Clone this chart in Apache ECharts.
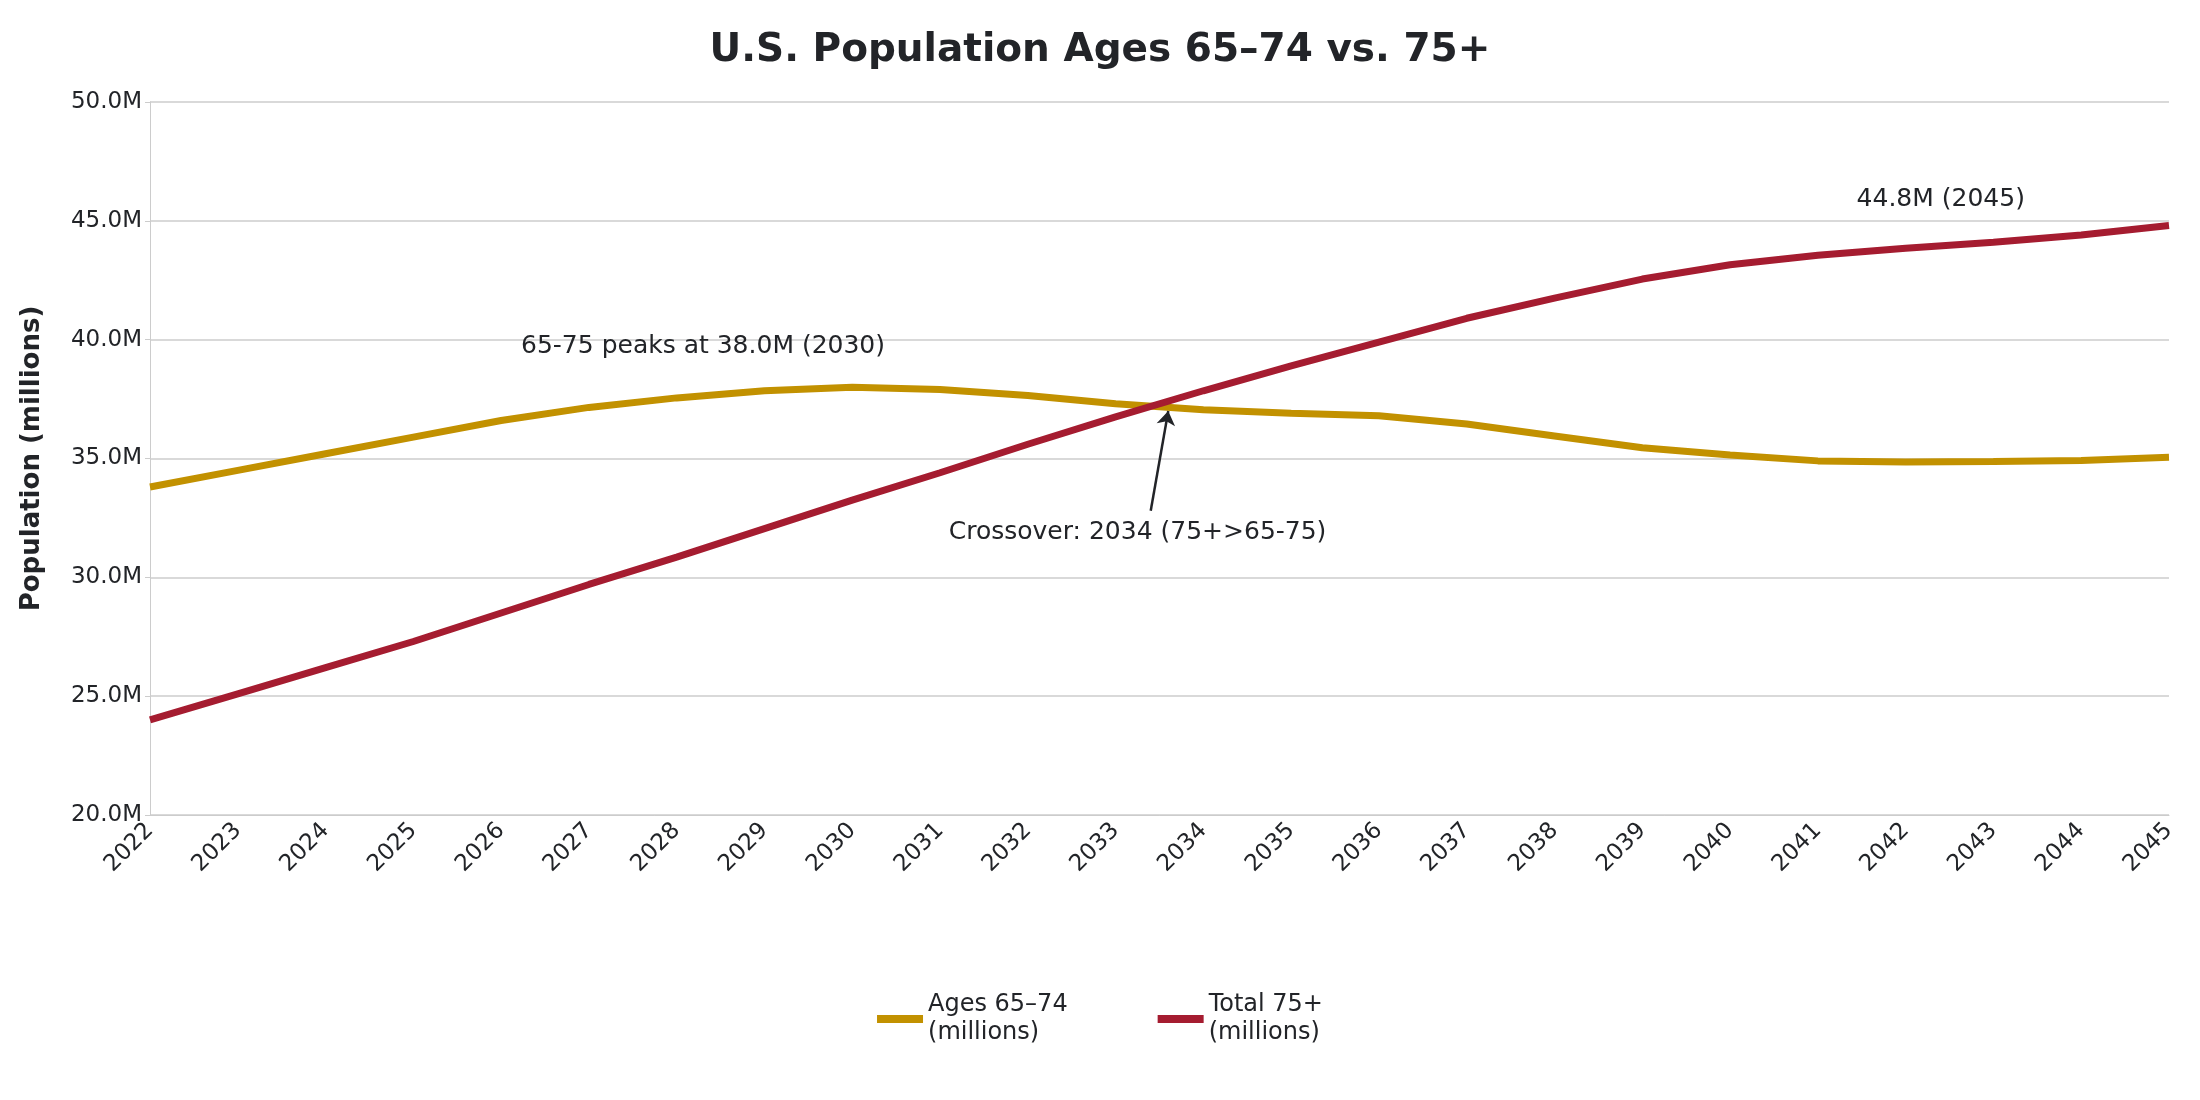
<!DOCTYPE html><html><head><meta charset="utf-8"><script src="https://cdn.jsdelivr.net/npm/echarts@6/dist/echarts.min.js"></script></head><body style="margin:0"><div id="c" style="width:2200px;height:1100px"></div><script>
const years=['2022','2023','2024','2025','2026','2027','2028','2029','2030','2031','2032','2033','2034','2035','2036','2037','2038','2039','2040','2041','2042','2043','2044','2045'];
const ages6574=[33.8,34.5,35.2,35.9,36.6,37.15,37.55,37.85,38.0,37.9,37.65,37.3,37.05,36.9,36.8,36.45,35.95,35.45,35.15,34.9,34.85,34.87,34.92,35.05];
const total75=[24.0,25.1,26.2,27.3,28.5,29.7,30.85,32.05,33.25,34.4,35.6,36.75,37.85,38.9,39.9,40.9,41.75,42.55,43.15,43.55,43.85,44.1,44.4,44.8];
const F='"DejaVu Sans",sans-serif',T='#222428';
const ch=echarts.init(document.getElementById('c'));
const lab=(x,y,t)=>({coord:[x,y],symbol:'circle',symbolSize:1,itemStyle:{color:'rgba(0,0,0,0)'},label:{show:true,position:'inside',formatter:t,fontSize:25,color:T,fontFamily:F}});
ch.setOption({
title:{text:'U.S. Population Ages 65–74 vs. 75+',left:'center',top:26,textStyle:{fontSize:39,fontWeight:'bold',color:T,fontFamily:F}},
grid:{left:150,right:31,top:102,bottom:285},
legend:{bottom:48,icon:'rect',itemWidth:46,itemHeight:8,itemGap:90,textStyle:{fontSize:24,color:T,fontFamily:F,lineHeight:28},data:['Ages 65–74\n(millions)','Total 75+\n(millions)']},
xAxis:{type:'value',min:0,max:23,interval:1,axisLine:{lineStyle:{color:'#ccc'}},axisTick:{show:false},splitLine:{show:false},axisLabel:{rotate:45,fontSize:23,color:T,fontFamily:F,margin:12,formatter:v=>years[v]||''}},
yAxis:{type:'value',min:20,max:50,interval:5,name:'Population (millions)',nameLocation:'middle',nameGap:105,nameTextStyle:{fontSize:26,fontWeight:'bold',color:T,fontFamily:F},axisLine:{show:true,lineStyle:{color:'#ccc'}},splitLine:{lineStyle:{color:'#ccc',width:1.5}},axisLabel:{fontSize:23,color:T,fontFamily:F,formatter:v=>v.toFixed(1)+'M'}},
series:[
{name:'Ages 65–74\n(millions)',type:'line',data:ages6574.map((v,i)=>[i,v]),symbol:'none',lineStyle:{width:7,color:'#C29100'},itemStyle:{color:'#C29100'},
 markPoint:{data:[lab(6.3,39.7,'65-75 peaks at 38.0M (2030)'),lab(11.25,31.9,'Crossover: 2034 (75+>65-75)')]},
 markLine:{symbol:['none','arrow'],symbolSize:14,label:{show:false},lineStyle:{color:T,width:2.5,type:'solid'},data:[[{coord:[11.4,32.8]},{coord:[11.6,37.0]}]]}},
{name:'Total 75+\n(millions)',type:'line',data:total75.map((v,i)=>[i,v]),symbol:'none',lineStyle:{width:7,color:'#A51C30'},itemStyle:{color:'#A51C30'},
 markPoint:{data:[lab(20.4,45.9,'44.8M (2045)')]}}
]});
</script></body></html>
